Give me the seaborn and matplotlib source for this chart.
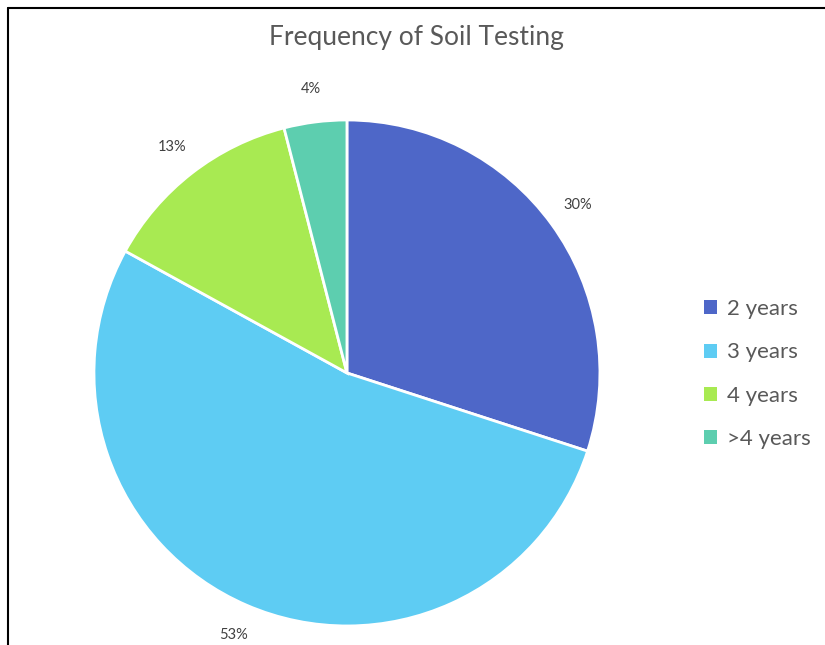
import matplotlib
matplotlib.use("Agg")
import matplotlib.pyplot as plt
import seaborn as sns
from matplotlib.lines import Line2D
from matplotlib.patches import Patch

sns.set_theme(style="white")
plt.rcParams['font.family'] = ['Lato', 'DejaVu Sans']

# data
categories = ['2 years', '3 years', '4 years', '>4 years']
shares = [30, 53, 13, 4]
colors = ['#4E67C8', '#5ECCF3', '#A8EA52', '#5DCEAF']

fig = plt.figure(figsize=(8.25, 6.45), dpi=100)
fig.patch.set_facecolor('white')

# pie axes placed so centre ~ (347, 373) px, radius ~ 253 px
ax = fig.add_axes([0.1139, 0.0295, 0.6133, 0.7845])
wedges, texts = ax.pie(
    shares,
    colors=colors,
    startangle=90,
    counterclock=False,
    labels=[f'{s}%' for s in shares],
    labeldistance=1.13,
    wedgeprops=dict(edgecolor='white', linewidth=2),
    textprops=dict(color='#404040', fontsize=10.5),
)
for t in texts:
    t.set_horizontalalignment('center')
    t.set_verticalalignment('center')
ax.set_xlim(-1, 1)
ax.set_ylim(-1, 1)
ax.set_aspect('equal')
ax.axis('off')

fig.text(0.505, 0.942, 'Frequency of Soil Testing', ha='center', va='center',
         fontsize=19, color='#595959')

handles = [Patch(facecolor=c, edgecolor='none') for c in colors]
fig.legend(handles, categories, loc='center left', bbox_to_anchor=(0.84, 0.42),
           frameon=False, fontsize=16, labelcolor='#595959',
           handlelength=0.6, handleheight=0.6, handletextpad=0.45,
           labelspacing=1.05, borderpad=0)

# frame lines (left and top edges of the screenshot)
fig.add_artist(Line2D([0.0097, 0.0097], [0, 0.9876], color='black', linewidth=1.5,
                      transform=fig.transFigure))
fig.add_artist(Line2D([0.0097, 1.0], [0.9876, 0.9876], color='black', linewidth=1.5,
                      transform=fig.transFigure))

fig.savefig('out.png', dpi=100)
